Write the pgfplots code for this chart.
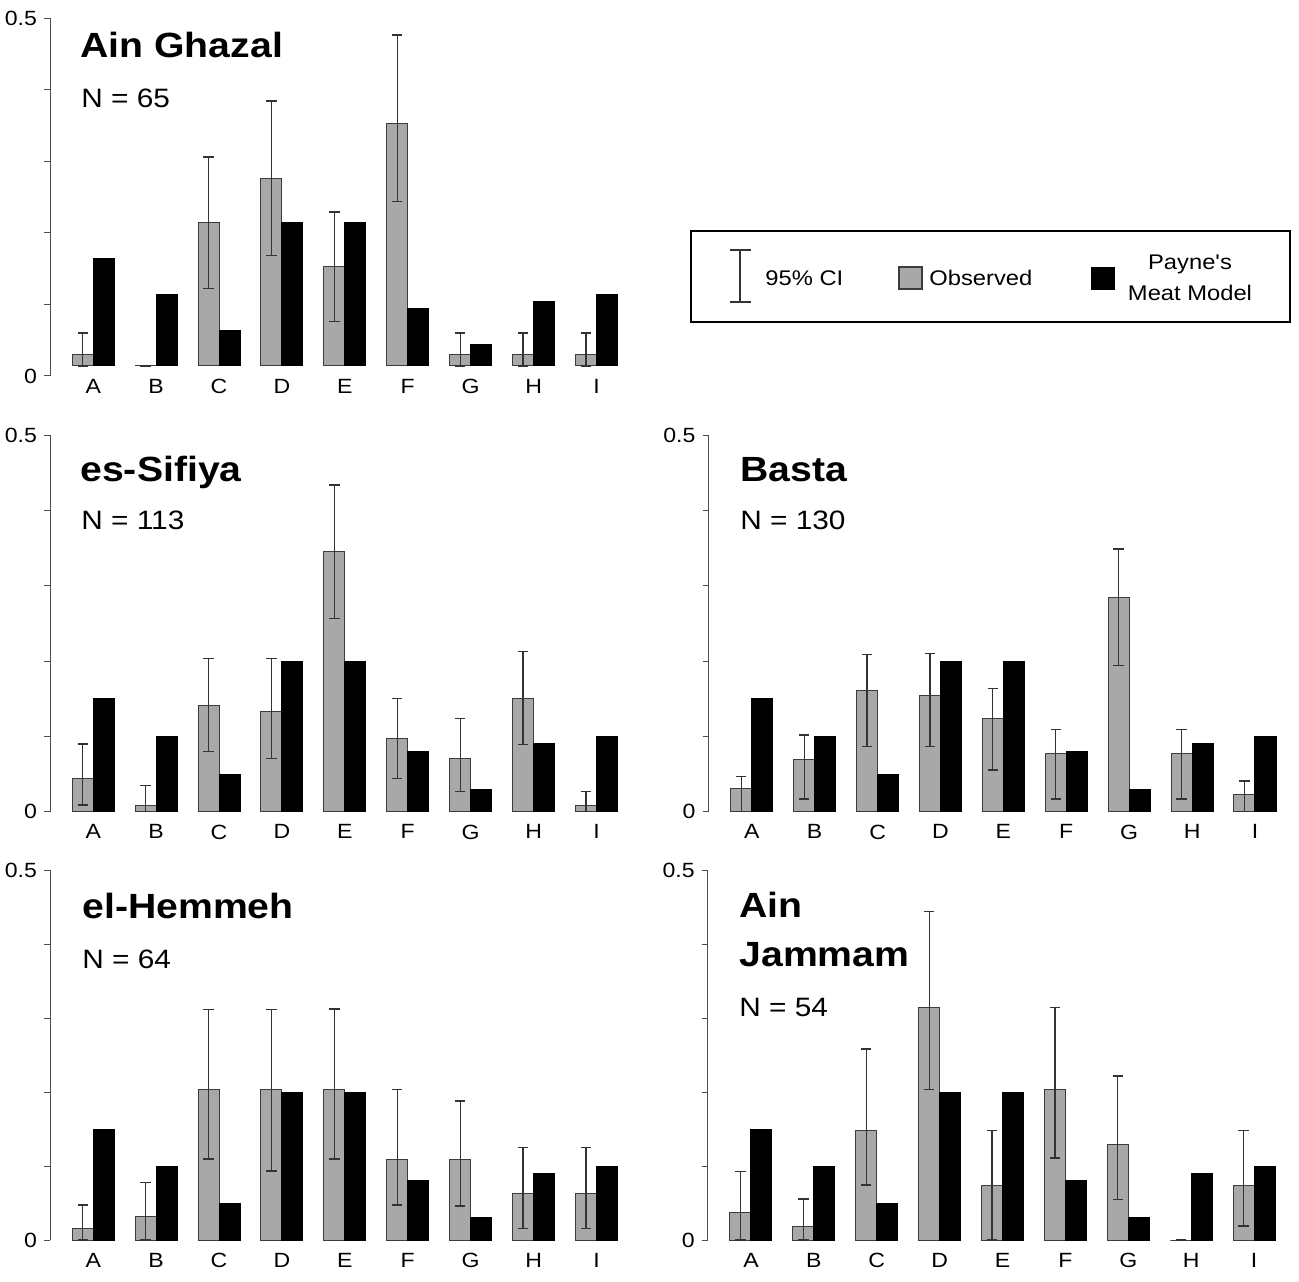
\documentclass[border=0pt]{standalone}
\usepackage{fontspec}
\setmainfont{Liberation Sans}[FakeStretch=1.12, Ligatures=TeXOff]
\usepackage{pgfplots}
\usepackage{pgfplotstable}
\pgfplotsset{compat=1.18}
\definecolor{obs}{RGB}{168,168,168}
\definecolor{edge}{RGB}{60,60,60}

% Payne's Meat Model (same in every panel)
\pgfplotstableread{
x y
0 0.15
1 0.10
2 0.05
3 0.20
4 0.20
5 0.08
6 0.03
7 0.09
8 0.10
}\model

% Observed: y = proportion, ep/em = distance to upper/lower 95% CI
\pgfplotstableread{
x y ep em
0 0.0154 0.0306 0.0154
1 0.0 0.0 0.0
2 0.2000 0.0920 0.0920
3 0.2615 0.1085 0.1075
4 0.1385 0.0765 0.0765
5 0.3385 0.1235 0.1085
6 0.0154 0.0306 0.0154
7 0.0154 0.0306 0.0154
8 0.0154 0.0306 0.0154
}\ainghazal

\pgfplotstableread{
x y ep em
0 0.0442 0.0456 0.0354
1 0.0088 0.0262 0.0088
2 0.1416 0.0620 0.0620
3 0.1327 0.0708 0.0619
4 0.3451 0.0885 0.0885
5 0.0973 0.0527 0.0533
6 0.0708 0.0532 0.0443
7 0.1504 0.0626 0.0614
8 0.0088 0.0177 0.0088
}\sifiya

\pgfplotstableread{
x y ep em
0 0.0308 0.0162 0.0308
1 0.0692 0.0326 0.0524
2 0.1615 0.0475 0.0752
3 0.1538 0.0562 0.0675
4 0.1231 0.0406 0.0678
5 0.0769 0.0321 0.0601
6 0.2846 0.0641 0.0908
7 0.0769 0.0321 0.0601
8 0.0231 0.0176 0.0231
}\basta

\pgfplotstableread{
x y ep em
0 0.0156 0.0317 0.0156
1 0.0313 0.0468 0.0313
2 0.2031 0.1080 0.0936
3 0.2031 0.1080 0.1100
4 0.2031 0.1090 0.0936
5 0.1094 0.0936 0.0621
6 0.1094 0.0786 0.0634
7 0.0625 0.0625 0.0467
8 0.0625 0.0625 0.0467
}\hemmeh

\pgfplotstableread{
x y ep em
0 0.0370 0.0553 0.0370
1 0.0185 0.0369 0.0185
2 0.1481 0.1099 0.0738
3 0.3148 0.1289 0.1112
4 0.0741 0.0736 0.0741
5 0.2037 0.1107 0.0927
6 0.1296 0.0920 0.0746
7 0.0 0.0 0.0
8 0.0741 0.0736 0.0552
}\jammam

\pgfplotsset{
 panel/.style={
  scale only axis, width=288.96pt,
  xmin=-0.688, xmax=8.5,
  ymin=0, ymax=0.5,
  axis y line*=left, axis x line*=bottom,
  x axis line style={draw=none},
  xtick={0,...,8}, xticklabels={A,B,C,D,E,F,G,H,I},
  xtick style={draw=none},
  ytick={0,0.1,0.2,0.3,0.4,0.5}, yticklabels={0,,,,,0.5},
  tick align=outside, major tick length=3pt,
  y axis line style={draw=black!70, line width=0.5pt},
  ytick style={draw=black!70, line width=0.5pt},
  tick label style={font=\fontsize{10.3}{12}\selectfont},
  ybar, bar width=0.334,
  clip=false,
 },
 obsbar/.style={fill=obs, draw=edge, line width=0.5pt, bar shift=-0.167,
   error bars/y dir=both, error bars/y explicit,
   error bars/error mark=-,
   error bars/error bar style={black!80, line width=0.6pt},
   error bars/error mark options={rotate=90, black!80, line width=0.7pt, mark size=2.6pt}},
 modbar/.style={fill=black, draw=black, line width=0.5pt, bar shift=0.167},
}

\newcommand{\obsplot}[1]{\addplot[obsbar] table[x=x, y=y, y error plus=ep, y error minus=em] {#1};}
\newcommand{\modplot}{\addplot[modbar] table[x=x, y=y] {\model};}

\begin{document}
\begin{tikzpicture}
\path[use as bounding box] (0,0) rectangle (649.5pt,640.5pt);

% Panel 1: Ain Ghazal
\begin{axis}[panel, at={(25pt,452.5pt)}, anchor=south west, height=179pt,
  ymin=-0.014, ymax=0.486,
  ytick={-0.014,0.086,0.186,0.286,0.386,0.486},
  xticklabel style={yshift=5pt}]
\obsplot{\ainghazal}
\modplot
\end{axis}

% Panel 2: es-Sifiya
\begin{axis}[panel, at={(25pt,234.65pt)}, anchor=south west, height=188.35pt]
\obsplot{\sifiya}
\modplot
\end{axis}

% Panel 3: Basta
\begin{axis}[panel, at={(354.25pt,234.65pt)}, anchor=south west, height=188.35pt]
\obsplot{\basta}
\modplot
\end{axis}

% Panel 4: el-Hemmeh
\begin{axis}[panel, at={(25pt,20.5pt)}, anchor=south west, height=185pt]
\obsplot{\hemmeh}
\modplot
\end{axis}

% Panel 5: Ain Jammam
\begin{axis}[panel, at={(353.85pt,20.5pt)}, anchor=south west, height=185pt]
\obsplot{\jammam}
\modplot
\end{axis}

% Titles
\tikzset{ttl/.style={anchor=base west, inner sep=0pt, font=\fontsize{17.5}{20}\bfseries\selectfont},
         nn/.style={anchor=base west, inner sep=0pt, font=\fontsize{13.3}{15}\selectfont}}
\node[ttl] at (40pt,611.5pt) {Ain Ghazal};
\node[nn]  at (40.5pt,586.5pt) {N = 65};
\node[ttl] at (40pt,399.65pt) {es-Sifiya};
\node[nn]  at (40.5pt,375.5pt) {N = 113};
\node[ttl] at (370pt,399.65pt) {Basta};
\node[nn]  at (370pt,375.5pt) {N = 130};
\node[ttl] at (41pt,181.5pt) {el-Hemmeh};
\node[nn]  at (41pt,156.5pt) {N = 64};
\node[ttl] at (369.5pt,182pt) {Ain};
\node[ttl] at (369.5pt,157.15pt) {Jammam};
\node[nn]  at (369.5pt,132.15pt) {N = 54};

% Legend
\draw[line width=0.9pt] (345.5pt,525pt) rectangle (645pt,479.5pt);
\draw[black!80, line width=0.6pt] (370pt,515.5pt) -- (370pt,489.5pt)
   (365pt,515.5pt) -- (375.5pt,515.5pt) (365pt,489.5pt) -- (375.5pt,489.5pt);
\node[anchor=west, inner sep=0pt, font=\fontsize{10.6}{12}\selectfont] at (382.5pt,501.5pt) {95\% CI};
\draw[fill=obs, draw=edge, line width=0.6pt] (449.5pt,507pt) rectangle (461pt,496pt);
\node[anchor=west, inner sep=0pt, font=\fontsize{10.6}{12}\selectfont] at (464.5pt,501.5pt) {Observed};
\draw[fill=black, draw=black] (545.5pt,507pt) rectangle (557pt,496pt);
\node[align=center, inner sep=0pt, font=\fontsize{10.6}{15.5}\selectfont] at (595pt,501.5pt) {Payne's\\Meat Model};
\end{tikzpicture}
\end{document}
